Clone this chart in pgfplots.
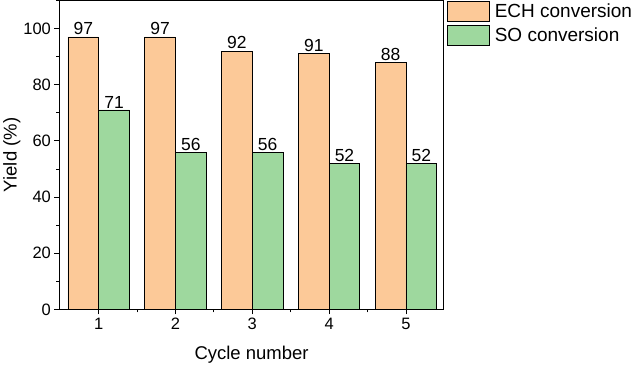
\documentclass[border=0pt]{standalone}
\usepackage{pgfplots}
\pgfplotsset{compat=1.18}
\usepackage{fontspec}
\setmainfont{Liberation Sans}
\definecolor{ech}{RGB}{252,201,152}
\definecolor{so}{RGB}{158,216,158}
\begin{document}
\begin{tikzpicture}
\begin{axis}[
  scale only axis,
  width=383bp, height=308bp,
  xmin=0.49, xmax=5.49,
  ymin=0, ymax=110,
  xtick={1,2,3,4,5},
  minor xtick={1.5,2.5,3.5,4.5,5.5},
  ytick={0,20,40,60,80,100},
  minor ytick={10,30,50,70,90,110},
  xtick pos=bottom, ytick pos=left,
  tick align=outside,
  major tick length=5bp, minor tick length=3bp,
  every tick/.style={black, line width=0.8pt},
  axis line style={line width=0.9pt},
  /pgf/number format/assume math mode=true,
  ticklabel style={font=\fontsize{16.5}{19}\selectfont},
  label style={font=\fontsize{18.5}{22}\selectfont},
  xlabel={Cycle number},
  ylabel={Yield (\%)},
  xlabel style={yshift=-10bp},
  ylabel style={yshift=-4bp},
  ybar, bar width=0.4,
  nodes near coords,
  every node near coord/.append style={font=\fontsize{17.5}{20}\selectfont, black, inner sep=1.5bp},
  legend style={draw=none, fill=none, at={(1.008,0.998)}, anchor=north west,
    font=\fontsize{19}{23.5}\selectfont, inner sep=0pt, row sep=3bp,
    nodes={inner xsep=5bp, inner ysep=0pt}},
  legend cell align=left,
  legend image code/.code={\draw[#1, line width=0.8pt] (0bp,-10bp) rectangle (42bp,10bp);},
]
\addplot[fill=ech, draw=black, line width=0.8pt, bar shift=-0.2] coordinates {(1,97) (2,97) (3,92) (4,91) (5,88)};
\addplot[fill=so, draw=black, line width=0.8pt, bar shift=0.2] coordinates {(1,71) (2,56) (3,56) (4,52) (5,52)};
\legend{ECH conversion, SO conversion}
\end{axis}
\end{tikzpicture}
\end{document}
